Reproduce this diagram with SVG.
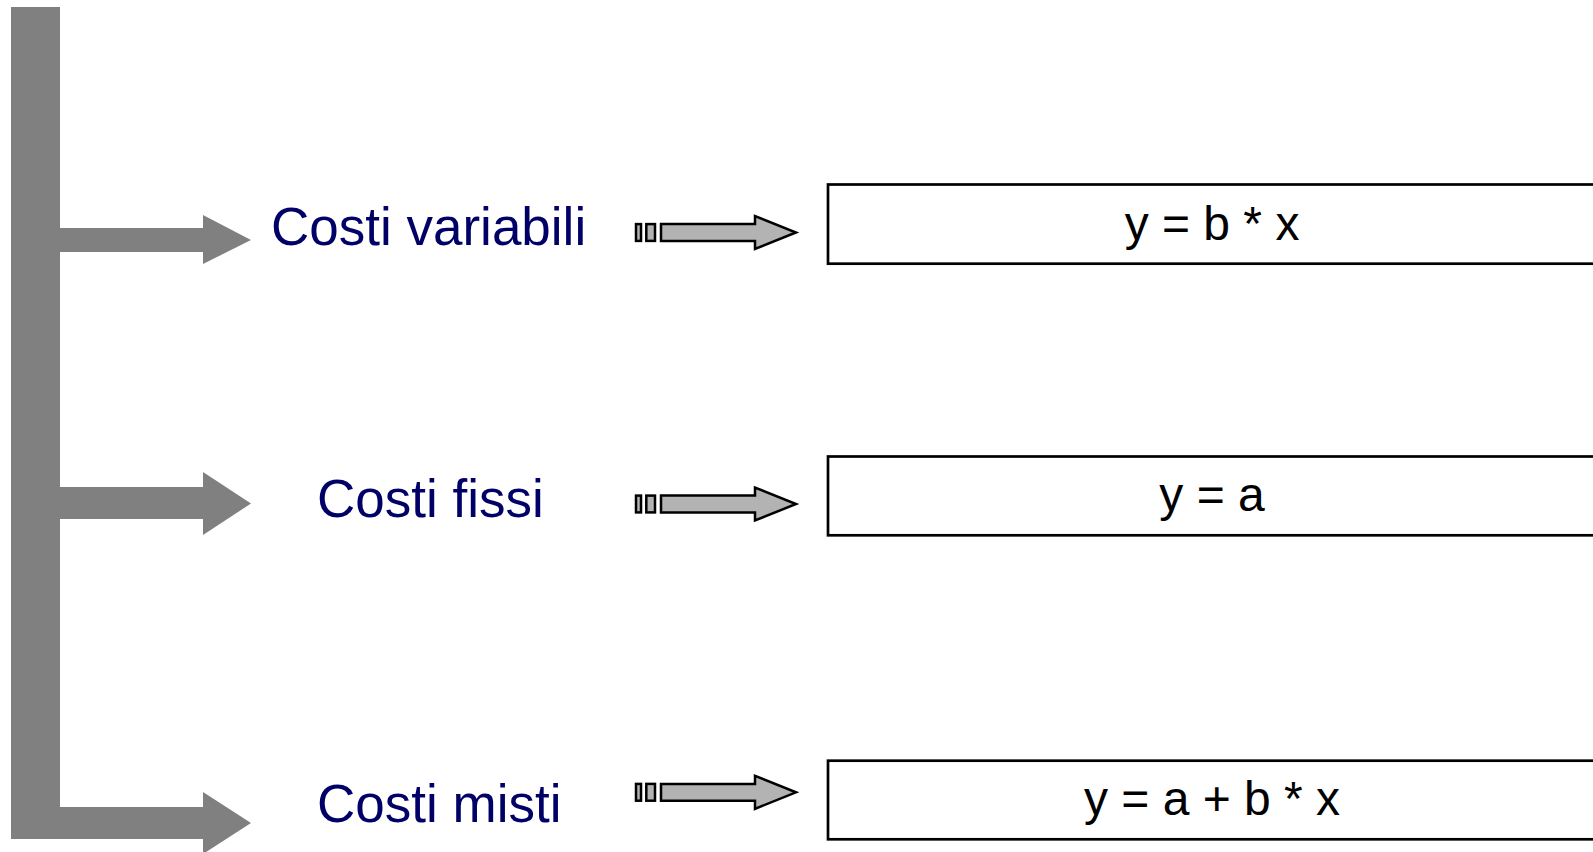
<svg xmlns="http://www.w3.org/2000/svg" xmlns:xlink="http://www.w3.org/1999/xlink" width="1593" height="852" viewBox="0 0 1593 852">
<style>
.big{fill:#808080;stroke:none}
.lbl{font-family:"Liberation Sans",Arial,sans-serif;font-size:53px;fill:#000066}
.box{fill:#fff;stroke:#000;stroke-width:2.7}
.fx{font-family:"Liberation Sans",Arial,sans-serif;font-size:48px;fill:#000;text-anchor:middle}
.sa{fill:#b3b3b3;stroke:#000;stroke-width:2.5}
</style>
<defs>
<g id="stripArrow">
<rect class="sa" x="636" y="-8.4" width="5" height="16.8"/>
<rect class="sa" x="646.3" y="-8.4" width="8.7" height="16.8"/>
<polygon class="sa" points="661,-8.4 755,-8.4 755,-16.5 796,0 755,16.5 755,8.4 661,8.4"/>
</g>
</defs>
<g id="connectors">
<rect class="big" x="11" y="7" width="49" height="832"/>
<polygon class="big" points="11,228 203,228 203,215 251,240 203,264 203,252 11,252"/>
<polygon class="big" points="11,487 203,487 203,472 251,503.5 203,535 203,519 11,519"/>
<polygon class="big" points="11,807 203,807 203,792 251,823 203,854 203,839 11,839"/>
<use xlink:href="#stripArrow" transform="translate(0,232.5)"/>
<use xlink:href="#stripArrow" transform="translate(0,504)"/>
<use xlink:href="#stripArrow" transform="translate(0,792.3)"/>
</g>
<g id="label-variabili"><text class="lbl" x="271" y="245">Costi variabili</text></g>
<g id="label-fissi"><text class="lbl" x="317" y="517">Costi fissi</text></g>
<g id="label-misti"><text class="lbl" x="317" y="822">Costi misti</text></g>
<g id="box-variabili">
<rect class="box" x="828" y="184.5" width="780" height="79.2"/>
<text class="fx" x="1212" y="239.5">y = b * x</text>
</g>
<g id="box-fissi">
<rect class="box" x="828" y="456.5" width="780" height="78.8"/>
<text class="fx" x="1212" y="511">y = a</text>
</g>
<g id="box-misti">
<rect class="box" x="828" y="760.7" width="780" height="78.6"/>
<text class="fx" x="1212" y="815">y = a + b * x</text>
</g>
</svg>
